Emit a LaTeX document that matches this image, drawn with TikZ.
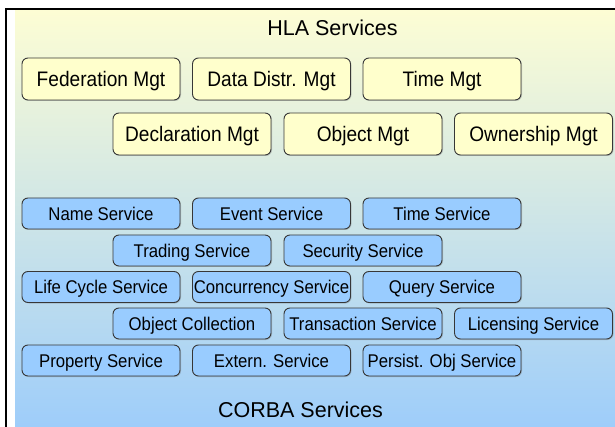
\documentclass[tikz,border=0pt]{standalone}
\usepackage{fontspec}
\setmainfont{Liberation Sans}
\newfontfamily\lblfont{Liberation Sans}[FakeStretch=0.91]
\usetikzlibrary{shadows}

\definecolor{bgtop}{RGB}{253,253,212}
\definecolor{bgmid}{RGB}{212,231,226}
\definecolor{bgbot}{RGB}{158,205,250}
\definecolor{hlafill}{RGB}{255,255,204}
\definecolor{corbafill}{RGB}{153,204,255}
\definecolor{boxline}{RGB}{55,55,55}

\tikzset{
  svcbox/.style={draw=boxline, line width=0.9pt, rounded corners=6pt,
    minimum width=158pt, inner sep=0pt, anchor=center, text depth=0pt,
    drop shadow={shadow xshift=1pt, shadow yshift=-1pt, opacity=0.3, fill=black!60}},
  hlabox/.style={svcbox, fill=hlafill, minimum height=42pt, text height=15pt,
    font=\lblfont\fontsize{21}{24}\selectfont},
  corbabox/.style={svcbox, fill=corbafill, minimum height=31pt, text height=13.2pt,
    font=\lblfont\fontsize{18.4}{21}\selectfont},
  grouptitle/.style={inner sep=0pt, anchor=center,
    text height=15.4pt, text depth=0pt,
    font=\fontsize{21.5}{24}\selectfont}
}

\begin{document}
\begin{tikzpicture}[x=1pt,y=-1pt]
  \useasboundingbox (0,0) rectangle (615,427);
  \fill[white] (0,0) rectangle (615,427);
  % background panel with vertical colour blend
  \shade[top color=bgtop, middle color=bgmid, bottom color=bgbot]
    (15,10) rectangle (615,427);
  % frame lines
  \draw[line width=2pt, line join=miter] (6,427) -- (6,9) -- (615,9);

  % group titles
  \node[grouptitle] (hla) at (332.5,28) {HLA Services};
  \node[grouptitle] (corba) at (300.5,410) {CORBA Services};

  % HLA services
  \node[hlabox] (fed)  at (101,79)   {Federation Mgt};
  \node[hlabox] (ddm)  at (271.5,79) {Data Distr. Mgt};
  \node[hlabox] (tm)   at (442,79)   {Time Mgt};
  \node[hlabox] (decl) at (192,134)  {Declaration Mgt};
  \node[hlabox] (obj)  at (363,134)  {Object Mgt};
  \node[hlabox] (own)  at (533.5,134){Ownership Mgt};

  % CORBA services
  \node[corbabox] (name)   at (101,213.5)   {Name Service};
  \node[corbabox] (event)  at (271.5,213.5) {Event Service};
  \node[corbabox] (time)   at (442,213.5)   {Time Service};
  \node[corbabox] (trade)  at (192,250.5)   {Trading Service};
  \node[corbabox] (sec)    at (363,250.5)   {Security Service};
  \node[corbabox] (life)   at (101,287)     {Life Cycle Service};
  \node[corbabox] (conc)   at (271.5,287)   {Concurrency Service};
  \node[corbabox] (query)  at (442,287)     {Query Service};
  \node[corbabox] (coll)   at (192,323.5)   {Object Collection};
  \node[corbabox] (trans)  at (363,323.5)   {Transaction Service};
  \node[corbabox] (lic)    at (533.5,323.5) {Licensing Service};
  \node[corbabox] (prop)   at (101,360.5)   {Property Service};
  \node[corbabox] (ext)    at (271.5,360.5) {Extern. Service};
  \node[corbabox] (pers)   at (442,360.5)   {Persist. Obj Service};
\end{tikzpicture}
\end{document}
